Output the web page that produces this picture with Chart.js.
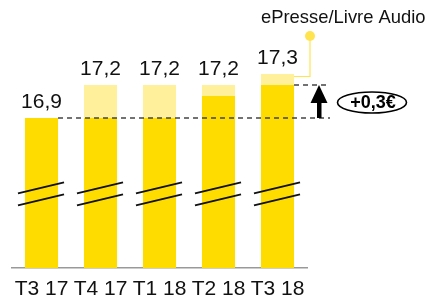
<!DOCTYPE html>
<html>
<head>
<meta charset="utf-8">
<script src="https://cdn.jsdelivr.net/npm/chart.js@4.4.1/dist/chart.umd.min.js"></script>
<style>
  html, body { margin: 0; padding: 0; background: #fff; }
  #wrap { width: 426px; height: 297px; position: relative; }
</style>
</head>
<body>
<div id="wrap"><canvas id="c"></canvas></div>
<script>
// Trimestres et panier moyen (€), échelle coupée
const quarters = ['T3 17', 'T4 17', 'T1 18', 'T2 18', 'T3 18'];
const baseValues = [16.9, 16.9, 16.9, 17.1, 17.2];   // partie jaune foncé
const epresseValues = [0, 0.3, 0.3, 0.1, 0.1];       // ePresse/Livre Audio
const totalLabels = ['16,9', '17,2', '17,2', '17,2', '17,3'];
const legendLabel = 'ePresse/Livre Audio';
const deltaLabel = '+0,3€';
const refLow = 16.9, refHigh = 17.2;   // lignes pointillées
const breakAt = 16.21;                 // position de la coupure

const FONT = '"Liberation Sans", Arial, Helvetica, sans-serif';
const dark = '#FFDC00';
const light = '#FFF09C';
const legendColor = '#FFE450';

const annotations = {
  id: 'annotations',
  afterDatasetsDraw(chart) {
    const ctx = chart.ctx;
    const y = chart.scales.y;
    const bars0 = chart.getDatasetMeta(0).data;
    const bars1 = chart.getDatasetMeta(1).data;
    ctx.save();

    // coupures d'échelle sur chaque barre
    const yb = y.getPixelForValue(breakAt);
    ctx.strokeStyle = '#111';
    ctx.lineWidth = 2;
    bars0.forEach(b => {
      const x0 = b.x - b.width / 2 - 7, x1 = b.x + b.width / 2 + 6;
      [-6, 6].forEach(off => {
        ctx.beginPath();
        ctx.moveTo(x0, yb + off + 5.5);
        ctx.lineTo(x1, yb + off - 5.5);
        ctx.stroke();
      });
    });

    // valeurs au-dessus des barres
    ctx.fillStyle = '#111';
    ctx.font = '21px ' + FONT;
    ctx.textAlign = 'center';
    ctx.textBaseline = 'alphabetic';
    totalLabels.forEach((t, i) => {
      const top = y.getPixelForValue(baseValues[i] + epresseValues[i]);
      ctx.fillText(t, bars0[i].x, top - 10);
    });

    // lignes pointillées de référence
    const last = bars0[bars0.length - 1];
    const xEnd = 330;
    const yLow = y.getPixelForValue(refLow);
    const yHigh = y.getPixelForValue(refHigh);
    ctx.strokeStyle = '#444';
    ctx.lineWidth = 1.5;
    ctx.setLineDash([5, 4]);
    ctx.beginPath();
    ctx.moveTo(bars0[0].x + bars0[0].width / 2, yLow);
    ctx.lineTo(xEnd, yLow);
    ctx.moveTo(last.x + last.width / 2, yHigh);
    ctx.lineTo(xEnd, yHigh);
    ctx.stroke();
    ctx.setLineDash([]);

    // flèche
    const ax = 319;
    ctx.fillStyle = '#000';
    ctx.fillRect(ax - 2, yHigh + 16, 4.5, yLow - yHigh - 16);
    ctx.beginPath();
    ctx.moveTo(ax, yHigh);
    ctx.lineTo(ax + 8.5, yHigh + 18);
    ctx.lineTo(ax - 8.5, yHigh + 18);
    ctx.closePath();
    ctx.fill();

    // ellipse +0,3€
    const ey = (yLow + yHigh) / 2 + 1;
    ctx.strokeStyle = '#000';
    ctx.lineWidth = 1.6;
    ctx.beginPath();
    ctx.ellipse(372, ey, 34.5, 10.5, 0, 0, Math.PI * 2);
    ctx.stroke();
    ctx.font = 'bold 18px ' + FONT;
    ctx.textBaseline = 'middle';
    ctx.fillText(deltaLabel, 373, ey + 1);

    // légende ePresse/Livre Audio
    const lb = bars1[bars1.length - 1];
    const ly = lb.y + 2.5;
    ctx.strokeStyle = legendColor;
    ctx.lineWidth = 1.2;
    ctx.beginPath();
    ctx.moveTo(lb.x + lb.width / 2, ly);
    ctx.lineTo(310, ly);
    ctx.lineTo(310, 36);
    ctx.stroke();
    ctx.fillStyle = legendColor;
    ctx.beginPath();
    ctx.arc(310, 36, 5, 0, Math.PI * 2);
    ctx.fill();
    ctx.fillStyle = '#111';
    ctx.font = '18.4px ' + FONT;
    ctx.textAlign = 'left';
    ctx.textBaseline = 'alphabetic';
    ctx.fillText(legendLabel, 261, 23);

    ctx.restore();
  }
};

new Chart(document.getElementById('c'), {
  type: 'bar',
  data: {
    labels: quarters,
    datasets: [
      { label: 'Total', data: baseValues, backgroundColor: dark },
      { label: legendLabel, data: epresseValues, backgroundColor: light }
    ]
  },
  options: {
    responsive: true,
    maintainAspectRatio: false,
    animation: false,
    layout: { padding: { left: 12, right: 119, top: 0, bottom: 0 } },
    datasets: { bar: { barPercentage: 0.56, categoryPercentage: 1 } },
    plugins: { legend: { display: false }, tooltip: { enabled: false } },
    scales: {
      x: {
        stacked: true,
        grid: { display: false, drawTicks: false },
        border: { display: true, color: '#999', width: 1.5 },
        ticks: { color: '#111', font: { family: FONT, size: 21 }, padding: 9, maxRotation: 0 },
        afterFit(scale) { scale.height = 29; }
      },
      y: {
        stacked: true,
        display: false,
        min: 15.536,
        max: 17.973
      }
    }
  },
  plugins: [annotations]
});
</script>
</body>
</html>
